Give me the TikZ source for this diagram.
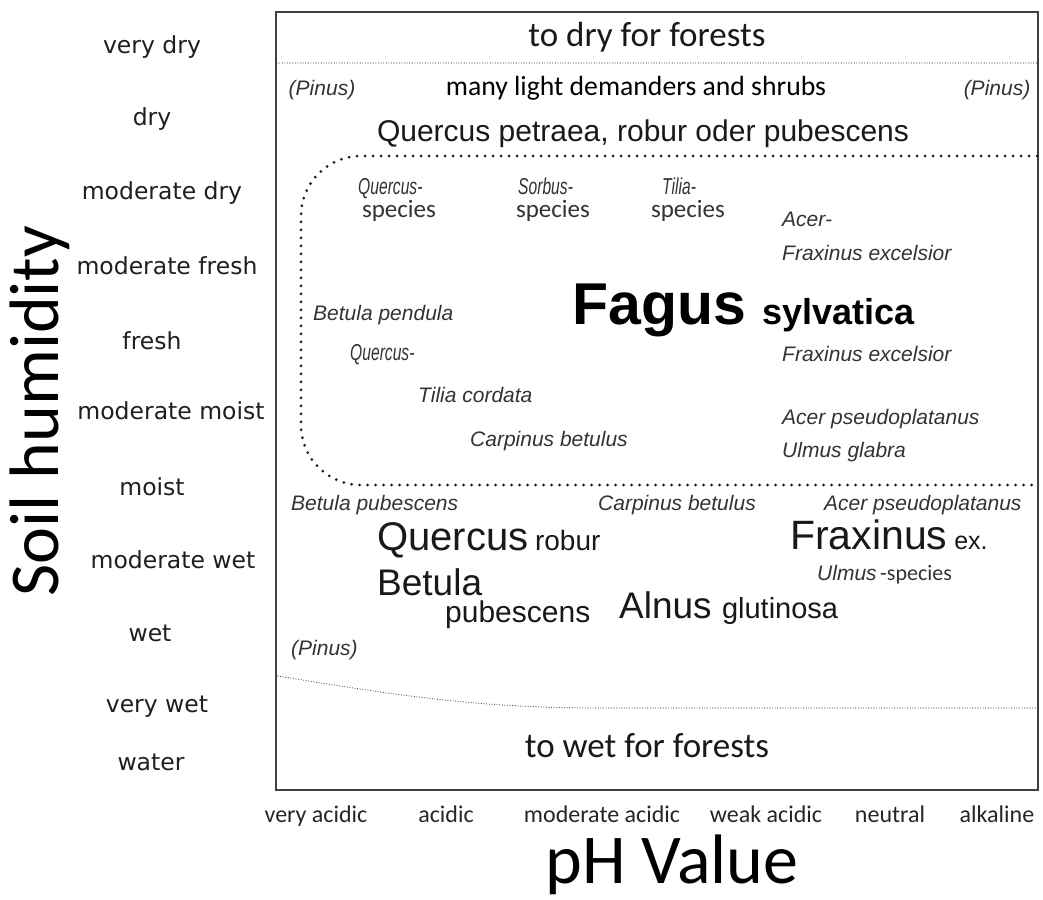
\documentclass[tikz,border=0pt]{standalone}
\usepackage{fontspec}
\setmainfont{Carlito}
\newfontfamily\labf{DejaVu Sans}
\newfontfamily\spf{Liberation Sans}
\newfontfamily\spc[FakeStretch=0.68]{Liberation Sans}
\newcommand\fsz[1]{\fontsize{#1}{#1}\selectfont}
\tikzset{
  lbl/.style={inner sep=0pt, anchor=base, font=\labf\fsz{23.5}, text=black!88},
  axl/.style={inner sep=0pt, anchor=base, font=\fsz{24}, text=black!85},
  zone/.style={inner sep=0pt, anchor=base, font=\fsz{35}, text=black!90},
  spi/.style={inner sep=0pt, anchor=base west, font=\spf\itshape\fsz{21}, text=black!80},
  spsmall/.style={inner sep=0pt, anchor=base west, font=\spc\itshape\fsz{23}, text=black!80},
  spec/.style={inner sep=0pt, anchor=base, font=\fsz{25}, text=black!80},
  spn/.style={inner sep=0pt, anchor=base west, font=\spf\fsz{30}, text=black!90},
  thickdots/.style={line width=3pt, dash pattern=on 0pt off 8pt, line cap=round, black!90},
  thindots/.style={line width=1.1pt, dash pattern=on 0pt off 2.6pt, line cap=round, black!75},
  frame/.style={line width=1.4pt, black!75}
}
\begin{document}
\begin{tikzpicture}[x=1pt,y=-1pt]
\useasboundingbox[fill=white] (0,0) rectangle (1043,899);
% frame
\draw[frame] (276,12) rectangle (1038,790);
\draw[thindots] (277,63) -- (1037,63);
\draw[thindots] (278,676) .. controls (400,696) and (480,708) .. (600,708) -- (1037,708);
\draw[thickdots, rounded corners=60pt] (1037,156) -- (301,156) -- (301,485) -- (1037,485);
% zones
\node[zone] (tdry) at (647,46) {to dry for forests};
\node[zone] (twet) at (647,757) {to wet for forests};
\node[inner sep=0pt, anchor=base, font=\fsz{27.7}] (many) at (636,95) {many light demanders and shrubs};
\node[spi, anchor=base] (pin1) at (322,95) {(Pinus)};
\node[spi, anchor=base] (pin2) at (997,95) {(Pinus)};
\node[spn, anchor=base] (qprp) at (643,141) {Quercus petraea, robur oder pubescens};
% inner region
\node[spsmall] (qsp) at (358,194) {Quercus-};
\node[spec] (qsp2) at (399,217) {species};
\node[spsmall] (ssp) at (518,194) {Sorbus-};
\node[spec] (ssp2) at (553,217) {species};
\node[spsmall] (tsp) at (662,194) {Tilia-};
\node[spec] (tsp2) at (688,217) {species};
\node[spi] (acer1) at (782,226) {Acer-};
\node[spi] (frax1) at (782,260) {Fraxinus excelsior};
\node[inner sep=0pt, anchor=base west, font=\spf\bfseries\fsz{59}] (fagus) at (572,324) {Fagus};
\node[inner sep=0pt, anchor=base west, font=\spf\bfseries\fsz{36}] (sylv) at (762,324) {sylvatica};
\node[spi] (betp) at (313,320) {Betula pendula};
\node[spsmall] (quer2) at (350,360) {Quercus-};
\node[spi] (frax2) at (782,361) {Fraxinus excelsior};
\node[spi] (tilc) at (418,402) {Tilia cordata};
\node[spi] (acps) at (782,424) {Acer pseudoplatanus};
\node[spi] (carp1) at (470,446) {Carpinus betulus};
\node[spi] (ulgl) at (782,457) {Ulmus glabra};
% lower region
\node[spi] (betpu) at (291,510) {Betula pubescens};
\node[spi] (carp2) at (598,510) {Carpinus betulus};
\node[spi] (acps2) at (824,510) {Acer pseudoplatanus};
\node[spn, font=\spf\fsz{40}] (qrob) at (377,550) {Quercus\,\fsz{28}robur};
\node[spn, font=\spf\fsz{41}] (frex) at (790,549) {Fraxinus\,\fsz{25}ex.};
\node[spi] (ulsp) at (817,580) {Ulmus\,{\normalfont\fsz{22}-species}};
\node[spn, font=\spf\fsz{37}] (betu) at (377,595) {Betula};
\node[spn, font=\spf\fsz{30}] (pube) at (445,622) {pubescens};
\node[spn, font=\spf\fsz{37}] (alnu) at (619,618) {Alnus \fsz{29}glutinosa};
\node[spi] (pin3) at (291,655) {(Pinus)};
% left axis
\node[lbl] (h1) at (152,54) {very dry};
\node[lbl] (h2) at (152,125) {dry};
\node[lbl] (h3) at (162,199) {moderate dry};
\node[lbl] (h4) at (167,274) {moderate fresh};
\node[lbl] (h5) at (152,349) {fresh};
\node[lbl] (h6) at (171,419) {moderate moist};
\node[lbl] (h7) at (152,495) {moist};
\node[lbl] (h8) at (173,568) {moderate wet};
\node[lbl] (h9) at (150,641) {wet};
\node[lbl] (h10) at (157,712) {very wet};
\node[lbl] (h11) at (151,770) {water};
\node[inner sep=0pt, rotate=90, font=\fsz{70}] (ytitle) at (40,411) {Soil humidity};
% bottom axis
\node[axl] (p1) at (316,822) {very acidic};
\node[axl] (p2) at (446,822) {acidic};
\node[axl] (p3) at (602,822) {moderate acidic};
\node[axl] (p4) at (766,822) {weak acidic};
\node[axl] (p5) at (890,822) {neutral};
\node[axl] (p6) at (997,822) {alkaline};
\node[inner sep=0pt, anchor=base, font=\fsz{70}] (xtitle) at (672,883) {pH Value};
\end{tikzpicture}
\end{document}
